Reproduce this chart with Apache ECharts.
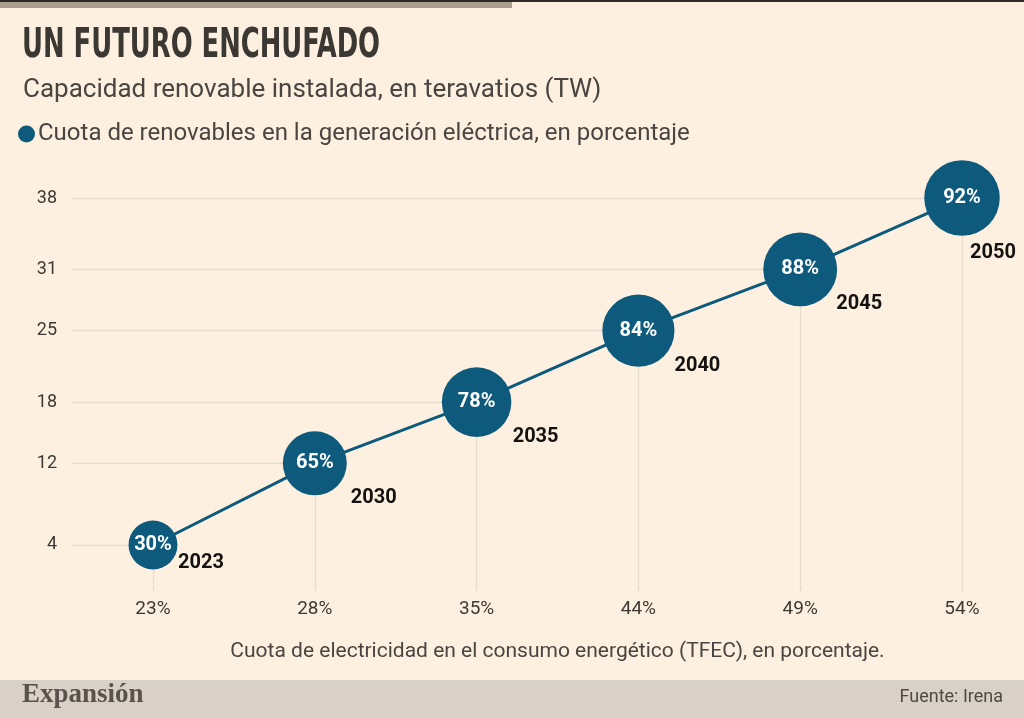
<!DOCTYPE html>
<html>
<head>
<meta charset="utf-8">
<script src="https://cdn.jsdelivr.net/npm/echarts@6/dist/echarts.min.js"></script>
<style>
  html, body { margin: 0; padding: 0; background: #fdf0e0; }
  #chart { width: 1024px; height: 718px; }
</style>
</head>
<body>
<div id="chart"></div>
<script>
// Data
const tfecShare = ["23%", "28%", "35%", "44%", "49%", "54%"];
const years = ["2023", "2030", "2035", "2040", "2045", "2050"];
const capacityTW = [4, 12, 18, 25, 31, 38];
const renewShare = [30, 65, 78, 84, 88, 92];
const yTicks = [4, 12, 18, 25, 31, 38];

const Y_MIN = -0.5;
const Y_MAX = 40;
const BLUE = "#0e5a7d";
const GUIDE = "#e6dccd";
const FONT = "Roboto, 'Liberation Sans', sans-serif";

const chart = echarts.init(document.getElementById("chart"));

// leader lines: from left edge to the point, and from the point down
const guides = [];
capacityTW.forEach((v, i) => {
  guides.push([{ x: "7%", yAxis: v }, { xAxis: tfecShare[i], yAxis: v }]);
  guides.push([{ xAxis: tfecShare[i], yAxis: v }, { xAxis: tfecShare[i], yAxis: Y_MIN }]);
});

const bubbleSize = (p) => 36 + 0.43 * p;

// where the year sits next to its bubble
const yearPos = (i) => (i === 0 ? [49, 19] : i === years.length - 1 ? [32, 56] : [60, 36]);

const option = {
  backgroundColor: "#fdf0e0",
  textStyle: { fontFamily: FONT },
  title: {
    text: "Capacidad renovable instalada, en teravatios (TW)",
    left: 18, top: 72,
    textStyle: { fontFamily: FONT, fontWeight: "normal", fontSize: 26, color: "#4a4541" }
  },
  legend: {
    data: ["Cuota de renovables en la generación eléctrica, en porcentaje"],
    left: 18, top: 122,
    padding: 0,
    icon: "circle",
    itemWidth: 17, itemHeight: 17, itemGap: 4,
    textStyle: { fontFamily: FONT, fontSize: 24, color: "#4a4541", padding: [0, 0, 0, -2] }
  },
  grid: { left: 153, right: 62, top: 177.6, bottom: 127.1 },
  xAxis: {
    type: "category",
    data: tfecShare,
    boundaryGap: false,
    axisLine: { show: false },
    axisTick: { show: false },
    axisLabel: { color: "#3d3935", fontSize: 19, margin: 9, fontFamily: FONT },
    name: "Cuota de electricidad en el consumo energético (TFEC), en porcentaje.",
    nameLocation: "middle",
    nameGap: 50,
    nameTextStyle: { color: "#4a4541", fontSize: 21, fontFamily: FONT }
  },
  yAxis: {
    type: "value",
    min: Y_MIN, max: Y_MAX,
    splitLine: { show: false },
    axisLine: { show: false },
    axisTick: { show: false },
    axisLabel: {
      customValues: yTicks,
      color: "#3d3935", fontSize: 18, margin: 96, fontFamily: FONT
    }
  },
  series: [
    {
      name: "guides",
      type: "line",
      data: capacityTW,
      showSymbol: false,
      silent: true,
      z: 1,
      lineStyle: { opacity: 0 },
      markLine: {
        silent: true,
        z: 1,
        symbol: "none",
        label: { show: false },
        lineStyle: { color: GUIDE, width: 1.3, type: "solid" },
        emphasis: { disabled: true },
        data: guides
      }
    },
    {
      name: "Cuota de renovables en la generación eléctrica, en porcentaje",
      type: "line",
      data: capacityTW,
      z: 3,
      symbol: "circle",
      symbolSize: (v, p) => bubbleSize(renewShare[p.dataIndex]),
      itemStyle: { color: BLUE },
      lineStyle: { color: BLUE, width: 3 },
      label: {
        show: true,
        position: "inside",
        formatter: (p) => renewShare[p.dataIndex] + "%",
        color: "#ffffff",
        fontSize: 20,
        fontWeight: "bold",
        fontFamily: FONT
      },
      emphasis: { disabled: true }
    },
    {
      name: "years",
      type: "scatter",
      data: capacityTW.map((v, i) => ({
        value: v,
        label: { position: yearPos(i) }
      })),
      symbolSize: 2,
      z: 4,
      silent: true,
      itemStyle: { color: "rgba(0,0,0,0)" },
      labelLayout: { hideOverlap: false },
      label: {
        show: true,
        align: "center",
        verticalAlign: "middle",
        formatter: (p) => years[p.dataIndex],
        color: "#141210",
        opacity: 1,
        fontSize: 20,
        fontWeight: "bold",
        fontFamily: FONT
      },
      emphasis: { disabled: true }
    }
  ],
  graphic: [
    { type: "rect", left: 0, top: 0, shape: { width: 512, height: 8 }, style: { fill: "#aa9e8e" }, silent: true },
    { type: "rect", left: 0, top: 0, shape: { width: 1024, height: 2 }, style: { fill: "#2f2a26" }, silent: true },
    {
      type: "text", x: 22, y: 26, scaleX: 0.7,
      style: {
        text: "UN FUTURO ENCHUFADO",
        font: "bold 41px 'DejaVu Sans Condensed', 'DejaVu Sans', sans-serif",
        fill: "#3b3733"
      }
    },
    { type: "rect", left: 0, top: 680, shape: { width: 1024, height: 38 }, style: { fill: "#d9d1c8" }, silent: true, z: -1 },
    {
      type: "text", left: 22, top: 682,
      style: {
        text: "Expansión",
        font: "bold 27px 'Liberation Serif', 'DejaVu Serif', serif",
        fill: "#5a524c"
      }
    },
    {
      type: "text", right: 21, top: 688,
      style: {
        text: "Fuente: Irena",
        font: "18px " + FONT,
        fill: "#4f4944"
      }
    }
  ]
};

chart.setOption(option);
</script>
</body>
</html>
